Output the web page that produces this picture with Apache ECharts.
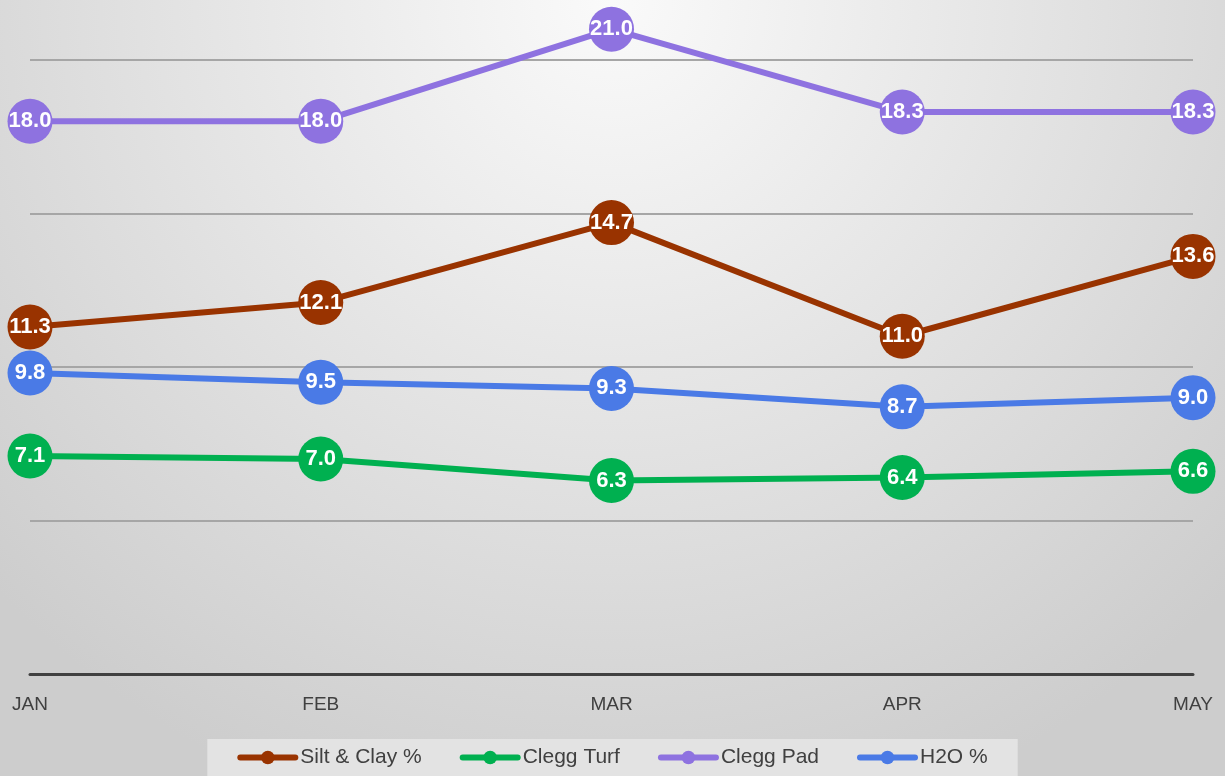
<!DOCTYPE html>
<html><head><meta charset="utf-8">
<script src="https://cdn.jsdelivr.net/npm/echarts@6/dist/echarts.min.js"></script>
<style>html,body{margin:0;padding:0;}#c{width:1225px;height:776px;}</style>
</head><body><div id="c"></div>
<script>
const categories = ['JAN','FEB','MAR','APR','MAY'];
const siltClay = [11.3, 12.1, 14.7, 11.0, 13.6];
const cleggTurf = [7.1, 7.0, 6.3, 6.4, 6.6];
const cleggPad = [18.0, 18.0, 21.0, 18.3, 18.3];
const h2o = [9.8, 9.5, 9.3, 8.7, 9.0];
const seriesNames = ['Silt & Clay %', 'Clegg Turf', 'Clegg Pad', 'H2O %'];
const colors = ['#993300', '#00B050', '#8E72E0', '#4A7AE6'];

const chart = echarts.init(document.getElementById('c'));
function mk(name, data, color) {
  return {
    name, type: 'line', data,
    symbol: 'circle', symbolSize: 45,
    lineStyle: { width: 6, color },
    itemStyle: { color },
    label: { show: true, position: 'inside', color: '#fff', fontWeight: 'bold', fontSize: 22,
      fontFamily: 'Liberation Sans, Arial, sans-serif', formatter: p => p.value.toFixed(1) },
    emphasis: { disabled: true }, animation: false
  };
}
chart.setOption({
  backgroundColor: { type: 'radial', x: 0.5, y: 0, r: 1.1,
    colorStops: [{ offset: 0, color: '#fafafa' }, { offset: 1, color: '#cdcdcd' }] },
  color: colors,
  grid: { left: 30, right: 32, top: 0, bottom: 102 },
  xAxis: { type: 'category', data: categories, boundaryGap: false,
    axisLine: { lineStyle: { color: '#404040', width: 3 } },
    axisTick: { show: false },
    axisLabel: { color: '#404040', fontSize: 19, margin: 21, fontFamily: 'Liberation Sans Narrow, Liberation Sans, sans-serif' } },
  yAxis: { type: 'value', min: 0, max: 21.95, interval: 5,
    axisLabel: { show: false }, axisLine: { show: false }, axisTick: { show: false },
    splitLine: { showMaxLine: false, lineStyle: { color: '#a6a6a6', width: 2 } } },
  legend: { bottom: 0, left: 'center', data: seriesNames,
    backgroundColor: '#e3e3e3', padding: [8, 30, 8, 30], itemGap: 38,
    itemWidth: 55, itemHeight: 17,
    lineStyle: { width: 6, cap: 'round' },
    textStyle: { color: '#404040', fontSize: 21, fontFamily: 'Liberation Sans Narrow, Liberation Sans, sans-serif' } },
  series: [mk(seriesNames[0], siltClay, colors[0]), mk(seriesNames[1], cleggTurf, colors[1]),
           mk(seriesNames[2], cleggPad, colors[2]), mk(seriesNames[3], h2o, colors[3])]
});
</script></body></html>
